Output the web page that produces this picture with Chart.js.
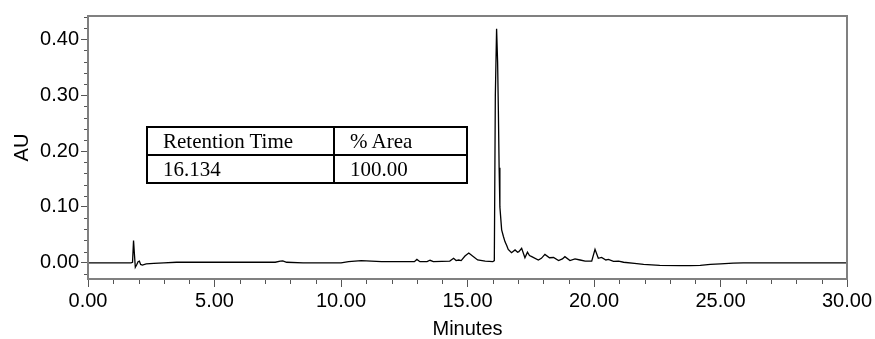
<!DOCTYPE html>
<html>
<head>
<meta charset="utf-8">
<script src="https://cdn.jsdelivr.net/npm/chart.js@4.4.0/dist/chart.umd.min.js"></script>
<style>
  html, body { margin: 0; padding: 0; background: #fff; }
  #wrap { position: relative; width: 875px; height: 339px; }
  #peakTable {
    position: absolute; left: 146px; top: 126px;
    border-collapse: collapse; table-layout: fixed;
    font-family: "Liberation Serif", "Times New Roman", serif; font-size: 21px; color: #000;
  }
  #peakTable td { border: 2px solid #000; height: 26px; padding: 0 0 0 15px; line-height: 23px; white-space: nowrap; }
</style>
</head>
<body>
<div id="wrap">
  <canvas id="chromChart" width="875" height="339"></canvas>
  <table id="peakTable"><tbody></tbody></table>
</div>
<script>
// === DONNEES ===
// temps de retention (minutes) et absorbance (AU), lus sur le chromatogramme
const times = [
  0.00, 1.00, 1.70, 1.76, 1.80, 1.84, 1.87, 1.92, 1.98, 2.03, 2.08, 2.15, 2.30, 2.60,
  3.00, 3.50, 5.00, 6.50, 7.40, 7.60, 7.70, 7.85, 8.50, 9.50, 10.00, 10.30, 10.80,
  11.20, 11.60, 12.50, 12.90, 13.00, 13.12, 13.40, 13.52, 13.65, 14.30, 14.45, 14.55,
  14.65, 14.75, 14.90, 15.05, 15.20, 15.40, 15.70, 16.00, 16.06, 16.10, 16.15, 16.19,
  16.22, 16.25, 16.28, 16.35, 16.42, 16.48, 16.55, 16.61, 16.74, 16.88, 16.98, 17.03,
  17.14, 17.27, 17.37, 17.45, 17.54, 17.80, 17.92, 18.06, 18.24, 18.40, 18.60, 18.75,
  18.85, 19.05, 19.25, 19.45, 19.65, 19.91, 20.04, 20.17, 20.30, 20.47, 20.57, 20.77,
  20.97, 21.17, 21.60, 21.96, 22.60, 23.40, 23.80, 24.20, 24.60, 25.00, 25.50, 25.90,
  30.00
];
const absorbance = [
  0.000, 0.000, 0.000, 0.001, 0.040, 0.012, -0.008, -0.004, 0.002, 0.003, -0.003, -0.004, -0.002, -0.001,
  0.000, 0.001, 0.001, 0.001, 0.001, 0.003, 0.0035, 0.001, 0.000, 0.000, 0.000, 0.002, 0.004,
  0.003, 0.002, 0.002, 0.002, 0.006, 0.002, 0.002, 0.0045, 0.002, 0.003, 0.008, 0.004,
  0.005, 0.004, 0.012, 0.0175, 0.012, 0.005, 0.003, 0.002, 0.004, 0.300, 0.419, 0.360,
  0.273, 0.170, 0.100, 0.059, 0.047, 0.038, 0.031, 0.024, 0.018, 0.023, 0.019, 0.020,
  0.026, 0.009, 0.019, 0.013, 0.011, 0.005, 0.008, 0.015, 0.009, 0.0095, 0.004, 0.007,
  0.011, 0.004, 0.007, 0.005, 0.003, 0.003, 0.024, 0.008, 0.0095, 0.005, 0.006, 0.0025,
  0.003, 0.001, -0.001, -0.003, -0.0045, -0.005, -0.005, -0.0045, -0.003, -0.002, -0.0005, 0.000,
  0.000
];

const xMajorTicks = [0, 5, 10, 15, 20, 25, 30];
const xMinorTicks = [1, 2, 3, 4, 6, 7, 8, 9, 11, 12, 13, 14, 16, 17, 18, 19, 21, 22, 23, 24, 26, 27, 28, 29];
const yMajorTicks = [0.00, 0.10, 0.20, 0.30, 0.40];
const yMinorTicks = [-0.02, 0.02, 0.04, 0.06, 0.08, 0.12, 0.14, 0.16, 0.18, 0.22, 0.24, 0.26, 0.28, 0.32, 0.34, 0.36, 0.38, 0.42, 0.44];

const tableHeader = ['Retention Time', '% Area'];
const tableRows = [['16.134', '100.00']];

// === TABLEAU DES PICS ===
function afficherTableau() {
  const tbody = document.querySelector('#peakTable tbody');
  const widths = [170, 116];
  [tableHeader].concat(tableRows).forEach(row => {
    const tr = document.createElement('tr');
    row.forEach((cell, i) => {
      const td = document.createElement('td');
      td.style.width = widths[i] + 'px';
      td.textContent = cell;
      tr.appendChild(td);
    });
    tbody.appendChild(tr);
  });
}
afficherTableau();

// === GRAPHIQUE ===
const axisColor = '#555';
const frameColor = '#808080';
const sansFont = { family: '"Liberation Sans", Arial, sans-serif', size: 20 };

// petites graduations + cadre
const minorTicksPlugin = {
  id: 'minorTicks',
  afterDraw(chart) {
    const { ctx, chartArea, scales } = chart;
    ctx.save();
    ctx.strokeStyle = axisColor;
    ctx.lineWidth = 1;
    ctx.beginPath();
    xMinorTicks.forEach(v => {
      const px = Math.round(scales.x.getPixelForValue(v)) + 0.5;
      ctx.moveTo(px, chartArea.bottom);
      ctx.lineTo(px, chartArea.bottom + 5);
    });
    yMinorTicks.forEach(v => {
      const py = Math.round(scales.y.getPixelForValue(v)) + 0.5;
      ctx.moveTo(chartArea.left, py);
      ctx.lineTo(chartArea.left - 4, py);
    });
    ctx.stroke();
    ctx.strokeStyle = frameColor;
    ctx.lineWidth = 2;
    ctx.strokeRect(chartArea.left, chartArea.top, chartArea.width, chartArea.height);
    ctx.restore();
  }
};

const ctx = document.getElementById('chromChart').getContext('2d');
new Chart(ctx, {
  type: 'line',
  data: {
    datasets: [{
      data: times.map((t, i) => ({ x: t, y: absorbance[i] })),
      borderColor: '#000',
      borderWidth: 1.3,
      pointRadius: 0,
      tension: 0,
      fill: false
    }]
  },
  options: {
    responsive: false,
    animation: false,
    devicePixelRatio: 1,
    layout: { padding: { top: 16, right: 28, left: 0, bottom: 0 } },
    plugins: { legend: { display: false }, tooltip: { enabled: false } },
    scales: {
      x: {
        type: 'linear',
        min: 0,
        max: 30,
        afterBuildTicks: s => { s.ticks = xMajorTicks.map(v => ({ value: v })); },
        afterFit: s => { s.height = 60; },
        ticks: {
          callback: v => v.toFixed(2),
          font: sansFont,
          color: '#000',
          maxRotation: 0,
          autoSkip: false,
          padding: 2
        },
        grid: { drawOnChartArea: false, tickLength: 8, tickColor: axisColor, tickWidth: 1 },
        border: { color: frameColor, width: 2 },
        title: { display: true, text: 'Minutes', font: { ...sansFont, lineHeight: 1 }, color: '#000', padding: { top: 0, bottom: 0 } }
      },
      y: {
        type: 'linear',
        min: -0.029,
        max: 0.4417,
        afterBuildTicks: s => { s.ticks = yMajorTicks.map(v => ({ value: v })); },
        afterFit: s => { s.width = 88; },
        ticks: {
          callback: v => v.toFixed(2),
          font: sansFont,
          color: '#000',
          autoSkip: false,
          padding: 2
        },
        grid: { drawOnChartArea: false, tickLength: 7, tickColor: axisColor, tickWidth: 1 },
        border: { color: frameColor, width: 2 },
        title: { display: true, text: 'AU', font: sansFont, color: '#000', padding: { top: 10, bottom: 0 } }
      }
    }
  },
  plugins: [minorTicksPlugin]
});
</script>
</body>
</html>
